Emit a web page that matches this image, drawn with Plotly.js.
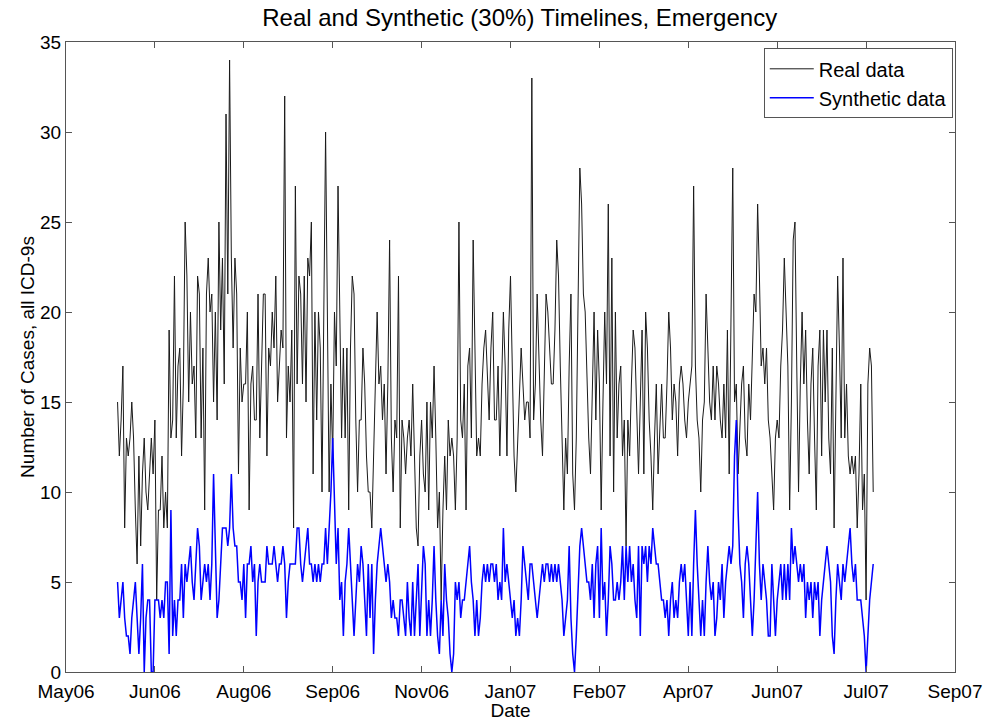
<!DOCTYPE html>
<html>
<head>
<meta charset="utf-8">
<script src="https://cdn.plot.ly/plotly-3.0.1.min.js"></script>
<style>html,body{margin:0;padding:0;background:#fff;}#chart{width:988px;height:721px;}</style>
</head>
<body>
<div id="chart"></div>
<script>
// first day of the daily series
const startDate = '2006-06-01';

// Real data, daily counts (Jun 1 2006 .. Jul 31 2007)
const realData = [
15,12,14,17,8,13,12,13,15,13,9,6,12,7,11,13,10,9,11,13,11,14,4,9,9,12,8,10,8,19,13,14,22,13,17,18,12,16,25,22,15,20,16,17,13,22,21,13,18,9,21,23,20,
21,15,20,14,25,19,23,16,31,21,34,23,18,23,21,11,18,15,16,16,20,9,16,17,14,14,21,13,18,21,21,12,18,17,20,18,22,15,17,19,18,32,13,17,15,19,8,27,16,22,21,16,22,
15,23,22,25,11,20,14,20,18,10,20,30,20,10,16,12,20,17,27,21,13,18,13,18,9,18,22,21,14,10,14,14,18,16,12,10,10,8,13,16,20,16,17,14,16,11,16,24,13,10,14,13,22,
8,14,13,11,13,14,12,16,12,8,7,12,14,11,10,15,9,15,13,17,13,8,10,4,9,12,9,14,12,13,12,9,13,25,14,13,16,9,17,18,13,24,18,12,13,12,16,18,19,16,14,18,20,14,
14,17,12,16,20,17,12,19,22,17,12,10,13,16,18,16,14,15,15,13,33,14,16,21,17,14,12,16,21,20,18,16,16,19,24,22,17,13,9,13,11,17,21,11,9,13,21,28,26,21,20,16,13,
11,16,20,14,19,16,9,15,20,16,26,12,23,10,20,13,16,17,12,14,7,14,12,16,19,18,14,11,15,19,11,20,18,14,12,9,13,16,11,14,16,13,13,16,20,18,14,16,15,12,16,17,16,14,
13,15,16,17,27,17,14,13,10,14,15,21,18,15,14,17,14,17,16,14,13,16,13,19,11,19,28,15,16,11,14,16,17,13,12,16,14,18,21,20,26,22,17,18,16,18,14,13,11,9,13,14,13,
17,19,23,20,17,9,15,24,25,17,10,16,20,16,19,14,11,16,18,13,9,17,19,12,19,15,19,13,11,18,8,15,22,18,13,23,13,16,12,11,12,11,12,8,11,16,9,11,4,16,18,17,10
];

// Synthetic data, daily counts (same days)
const syntheticData = [
5,3,4,5,3,2,2,1,3,4,5,3,1,3,6,0,3,4,4,0,0,4,4,4,3,4,3,5,5,1,9,
2,4,2,4,4,6,3,6,5,6,7,5,4,6,8,7,4,5,6,5,6,4,
6,11,6,3,4,6,8,8,8,7,8,11,8,7,7,5,5,4,6,3,6,6,7,5,6,2,5,6,5,5,5,7,6,6,6,7,6,5,6,6,7,6,3,5,6,6,6,6,8,8,6,5,6,
7,8,6,6,5,6,5,6,5,6,6,8,6,8,10,13,
9,6,8,4,5,2,5,6,8,6,4,2,4,6,5,7,6,4,2,6,3,6,1,4,6,7,8,7,6,5,6,5,3,4,3,3,2,4,
4,3,2,5,3,2,5,2,4,6,2,5,7,6,2,4,2,4,7,4,2,1,4,2,6,4,3,1,0,
1,5,4,5,3,4,4,5,6,7,5,4,2,4,2,3,5,6,5,6,5,6,6,5,
6,4,5,4,8,5,6,5,4,3,4,2,3,2,4,7,6,5,4,6,6,5,4,3,4,5,6,5,6,6,5,6,5,6,5,6,5,4,2,3,4,7,3,1,0,
2,5,7,8,7,6,5,5,
4,6,3,6,7,3,8,4,5,2,4,7,6,4,4,5,4,5,7,4,7,5,7,5,6,4,3,7,2,7,6,7,5,7,6,8,7,6,6,5,4,4,3,4,2,4,5,3,4,3,5,6,5,6,
4,2,5,2,6,9,6,4,2,4,2,5,7,5,4,5,2,3,5,4,6,3,5,6,7,6,7,12,14,9,6,5,3,6,7,6,4,2,4,7,10,6,4,6,5,4,2,2,6,4,2,4,5,
6,4,6,4,6,4,8,6,7,6,5,6,5,6,3,5,4,5,3,5,4,5,2,4,5,6,7,6,5,2,1,4,6,5,4,6,5,6,7,8,6,5,6,4,4,4,3,2,0,2,4,5,6
];

// x-axis ticks (every 50 days) and their labels
const tickDates = ['2006-05-03','2006-06-22','2006-08-11','2006-09-30','2006-11-19','2007-01-08','2007-02-27','2007-04-18','2007-06-07','2007-07-27','2007-09-15'];
const tickLabels = ['May06','Jun06','Aug06','Sep06','Nov06','Jan07','Feb07','Apr07','Jun07','Jul07','Sep07'];
const yTicks = [0,5,10,15,20,25,30,35];

function dayString(i){
  const d = new Date(startDate + 'T00:00:00Z');
  d.setUTCDate(d.getUTCDate() + i);
  return d.toISOString().slice(0,10);
}
const dates = realData.map((_, i) => dayString(i));

const font = 'Liberation Sans, Arial, sans-serif';

const traces = [
  {x: dates, y: realData, type: 'scatter', mode: 'lines', name: 'Real data',
   line: {color: '#1a1a1a', width: 1}},
  {x: dates, y: syntheticData, type: 'scatter', mode: 'lines', name: 'Synthetic data',
   line: {color: '#0000ff', width: 1.5}}
];

const axisCommon = {
  showline: true, linecolor: '#555', linewidth: 1, mirror: 'ticks',
  ticks: 'inside', ticklen: 6, tickcolor: '#555', showgrid: false, zeroline: false,
  tickfont: {family: font, size: 19, color: '#000'}
};

const layout = {
  width: 988, height: 721,
  margin: {l: 66, r: 33, t: 42, b: 49},
  paper_bgcolor: '#fff', plot_bgcolor: '#fff',
  font: {family: font, color: '#000'},
  title: {text: 'Real and Synthetic (30%) Timelines, Emergency', font: {family: font, size: 24, color: '#000'},
          x: 0.526, xanchor: 'center', y: 0.975, yanchor: 'middle'},
  xaxis: Object.assign({}, axisCommon, {
    type: 'date', range: ['2006-05-03', '2007-09-15'],
    tickmode: 'array', tickvals: tickDates, ticktext: tickLabels,
    ticklabelstandoff: 2,
    title: {text: 'Date', font: {family: font, size: 19, color: '#000'}, standoff: 0}
  }),
  yaxis: Object.assign({}, axisCommon, {
    range: [0, 35], tickmode: 'array', tickvals: yTicks, ticktext: yTicks.map(String),
    title: {text: 'Number of Cases, all ICD-9s', font: {family: font, size: 19, color: '#000'}, standoff: 0}
  }),
  showlegend: true,
  legend: {x: 0.9975, y: 0.99, xanchor: 'right', yanchor: 'top',
           bordercolor: '#555', borderwidth: 1, bgcolor: '#fff',
           font: {family: font, size: 20, color: '#000'}, tracegroupgap: 0,
           itemwidth: 44}
};

Plotly.newPlot('chart', traces, layout, {displayModeBar: false, staticPlot: true});
</script>
</body>
</html>
